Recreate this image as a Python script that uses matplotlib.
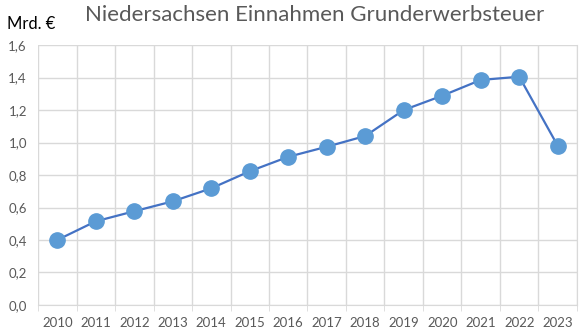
import numpy as np
import matplotlib
matplotlib.use("Agg")
import matplotlib.pyplot as plt

plt.rcParams['font.family'] = ['Lato', 'DejaVu Sans']

# Einnahmen Grunderwerbsteuer Niedersachsen, Mrd. Euro
years = ['2010', '2011', '2012', '2013', '2014', '2015', '2016',
         '2017', '2018', '2019', '2020', '2021', '2022', '2023']
revenue = [0.40, 0.515, 0.577, 0.638, 0.718, 0.823, 0.912,
           0.974, 1.04, 1.20, 1.288, 1.385, 1.405, 0.98]
yticks = [0.0, 0.2, 0.4, 0.6, 0.8, 1.0, 1.2, 1.4, 1.6]

fig = plt.figure(figsize=(5.82, 3.36), dpi=100)
ax = fig.add_axes([0.0653, 0.0923, 0.9261, 0.7737])

x = np.arange(len(years))
ax.plot(x, revenue, color='#4472C4', linewidth=1.6, zorder=3)
ax.plot(x, revenue, linestyle='none', marker='o', markersize=11,
        markerfacecolor='#5B9BD5', markeredgecolor='#5B9BD5', zorder=4)

ax.set_xlim(-0.5, len(years) - 0.5)
ax.set_ylim(0, 1.6)

# gridlines: horizontal at y-ticks, vertical at category borders
ax.set_yticks(yticks)
ax.set_yticklabels([f'{v:.1f}'.replace('.', ',') for v in yticks])
ax.set_xticks(x)
ax.set_xticklabels(years)
ax.set_xticks(np.arange(-0.5, len(years)), minor=True)
ax.grid(True, which='major', axis='y', color='#D9D9D9', linewidth=1)
ax.grid(True, which='minor', axis='x', color='#D9D9D9', linewidth=1)
ax.set_axisbelow(True)

ax.tick_params(axis='x', which='major', length=0, pad=9, labelsize=9.5, colors='#595959')
ax.tick_params(axis='x', which='minor', length=4, color='#D9D9D9', direction='out')
ax.tick_params(axis='y', length=0, pad=8, labelsize=9.5, colors='#595959')

for s in ['top', 'left']:
    ax.spines[s].set_visible(False)
ax.spines['right'].set_color('#D9D9D9')
ax.spines['bottom'].set_color('#D9D9D9')

fig.text(0.541, 0.955, 'Niedersachsen Einnahmen Grunderwerbsteuer',
         ha='center', va='center', fontsize=16, color='#595959')
fig.text(0.012, 0.93, 'Mrd. €', ha='left', va='center', fontsize=12, color='black')

fig.savefig('out.png', dpi=100)
